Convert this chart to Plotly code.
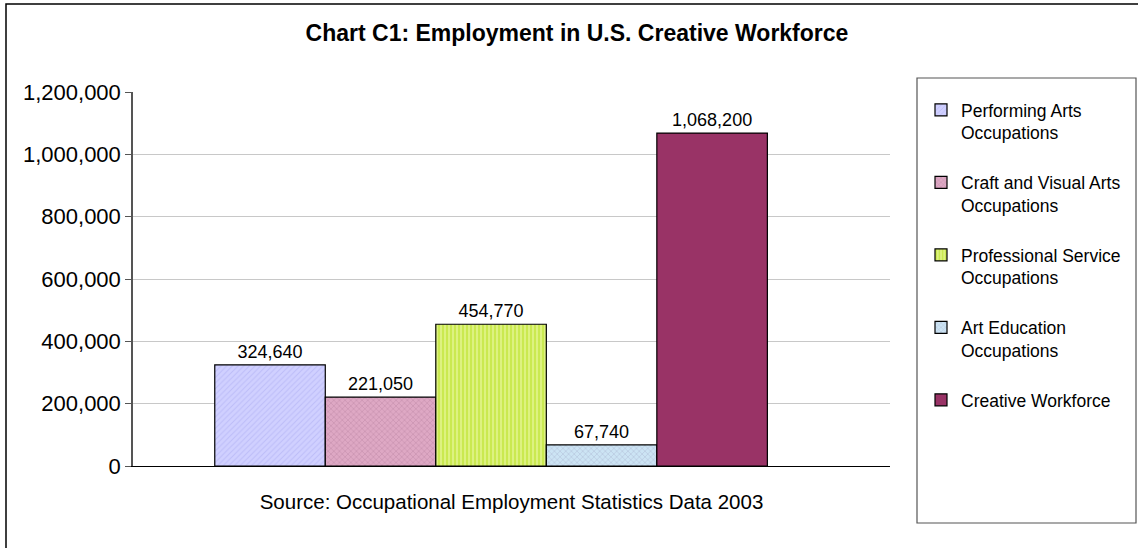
import plotly.graph_objects as go

W, H = 1138, 548
L, R, T, B = 133, 248, 92, 82  # plot area: x 133..890, y 92..466

series_names = [
    "Performing Arts<br>Occupations",
    "Craft and Visual Arts<br>Occupations",
    "Professional Service<br>Occupations",
    "Art Education<br>Occupations",
    "Creative Workforce",
]
values = [324640, 221050, 454770, 67740, 1068200]
category = ["2003"]
y_ticks = [0, 200000, 400000, 600000, 800000, 1000000, 1200000]

styles = [
    dict(color="#CCCCFF", pattern=dict(shape="/", bgcolor="#D0D0FF", fgcolor="#A8A8F0", size=4, solidity=0.25)),
    dict(color="#D49AB8", pattern=dict(shape="x", bgcolor="#DEA8C4", fgcolor="#B07898", size=4, solidity=0.3)),
    dict(color="#CCEE44", pattern=dict(shape="|", bgcolor="#DDF280", fgcolor="#B8E020", size=4, solidity=0.5)),
    dict(color="#C8DCEC", pattern=dict(shape="x", bgcolor="#CCE4F4", fgcolor="#A0A8C4", size=4, solidity=0.3)),
    dict(color="#993366"),
]

fig = go.Figure()
for name, v, st in zip(series_names, values, styles):
    fig.add_trace(go.Bar(
        x=category, y=[v], name=name, legendgroup=name,
        marker=dict(line=dict(color="#000000", width=1.2), **st),
        text=[f"{v:,}"], textposition="outside", cliponaxis=False,
        textfont=dict(family="Liberation Sans, Arial", size=18, color="#000000"),
    ))

def px_x(x):
    return (x - L) / (W - L - R)

def px_y(y):
    return (H - B - y) / (H - T - B)

fig.update_layout(
    width=W, height=H,
    margin=dict(l=L, r=R, t=T, b=B),
    paper_bgcolor="white", plot_bgcolor="white",
    barmode="group", bargap=0.27, bargroupgap=0,
    font=dict(family="Liberation Sans, Arial", size=18, color="#000000"),
    title=dict(text="<b>Chart C1: Employment in U.S. Creative Workforce</b>",
               x=577 / W, xanchor="center", y=1 - 33 / H, yanchor="middle",
               font=dict(family="Liberation Sans, Arial", size=23, color="#000000")),
    showlegend=True,
    legend=dict(x=px_x(921), xanchor="left", y=1, yanchor="top",
                bgcolor="rgba(0,0,0,0)", borderwidth=0, valign="top",
                tracegroupgap=24, traceorder="grouped",
                font=dict(family="Liberation Sans, Arial", size=17.5, color="#000000")),
    xaxis=dict(showticklabels=False, showgrid=False, ticks="",
               range=[-0.473, 0.527],
               showline=True, linecolor="#000000", linewidth=1,
               title=dict(text="Source: Occupational Employment Statistics Data 2003",
                          font=dict(size=20.5), standoff=28)),
    yaxis=dict(range=[0, 1200000], tickvals=y_ticks, tickformat=",",
               showgrid=True, gridcolor="#C8C8C8", gridwidth=1,
               showline=True, linecolor="#555555", linewidth=1.5,
               ticks="outside", ticklen=6, tickcolor="#555555",
               tickfont=dict(size=22), zeroline=False),
    shapes=[
        dict(type="rect", xref="paper", yref="paper",
             x0=px_x(6), x1=px_x(1160), y0=px_y(580), y1=px_y(4),
             line=dict(color="#000000", width=1.5), fillcolor="rgba(0,0,0,0)", layer="below"),
        dict(type="rect", xref="paper", yref="paper",
             x0=px_x(917), x1=px_x(1136), y0=px_y(523), y1=px_y(78),
             line=dict(color="#555555", width=1.2), fillcolor="rgba(0,0,0,0)"),
    ],
)

fig.write_html("out.html")
